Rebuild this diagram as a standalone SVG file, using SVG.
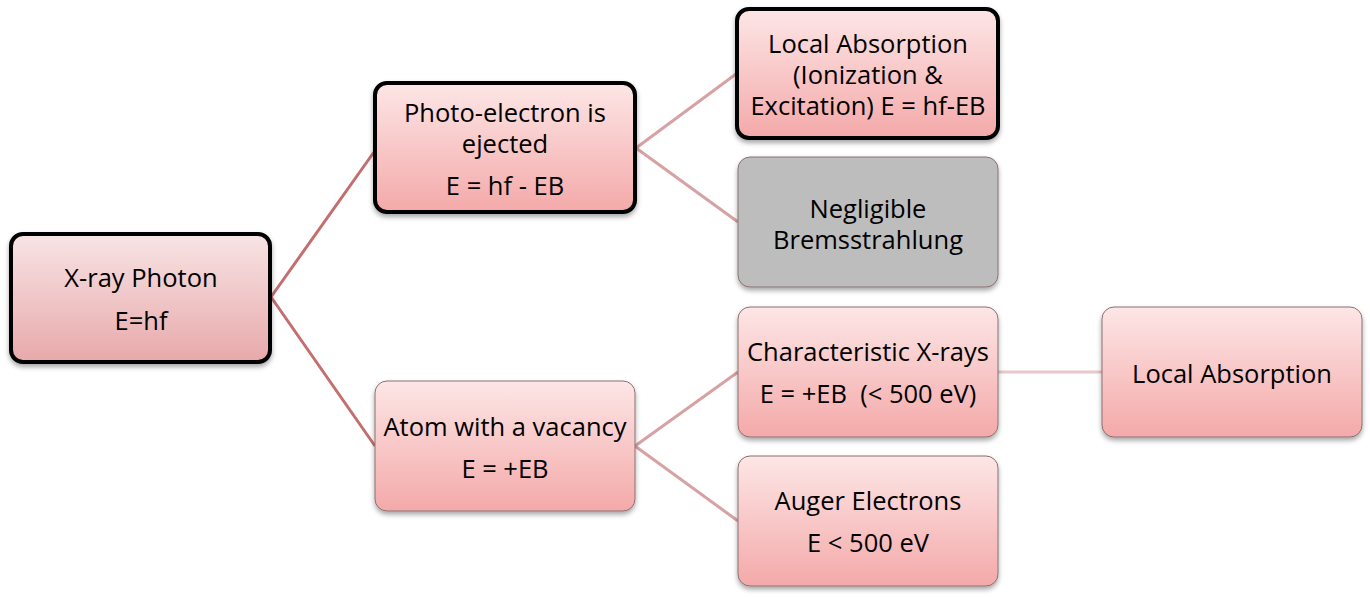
<svg xmlns="http://www.w3.org/2000/svg" width="1370" height="599" viewBox="0 0 1370 599">
<defs>
<linearGradient id="pink" x1="0" y1="0" x2="0" y2="1">
<stop offset="0" stop-color="#fde6e6"/>
<stop offset="1" stop-color="#f4a9a9"/>
</linearGradient>
<linearGradient id="pink0" x1="0" y1="0" x2="0" y2="1">
<stop offset="0" stop-color="#f8e4e5"/>
<stop offset="1" stop-color="#e8a9aa"/>
</linearGradient>
<filter id="sh" x="-10%" y="-10%" width="120%" height="130%">
<feDropShadow dx="0" dy="3" stdDeviation="2.5" flood-color="#000" flood-opacity="0.35"/>
</filter>
<style>
.t{font-family:"Open Sans","Liberation Sans",Arial,sans-serif;font-size:25.5px;fill:#000;text-anchor:middle}
.thick{stroke:#000;stroke-width:4;filter:url(#sh)}
.thin{stroke:#8a7070;stroke-width:1;filter:url(#sh)}
.c1{stroke:#c46e6f;stroke-width:3;fill:none}
.c2{stroke:#d7a2a3;stroke-width:3;fill:none}
.c3{stroke:#e8c8c9;stroke-width:3;fill:none}
</style>
</defs>
<g id="connectors">
<path class="c1" d="M271,297 L374,152 M271,297 L375,446"/>
<path class="c2" d="M636,148 L736,74 M636,148 L738,222 M635,446 L738,372 M635,446 L738,521"/>
<path class="c3" d="M998,372 L1102,372"/>
</g>
<g id="n1">
<rect class="thick" x="11" y="234" width="259" height="128" rx="12" fill="url(#pink0)"/>
<text class="t" x="141" y="287">X-ray Photon</text>
<text class="t" x="141" y="330">E=hf</text>
</g>
<g id="n2">
<rect class="thick" x="375" y="83" width="260" height="129" rx="12" fill="url(#pink)"/>
<text class="t" x="505" y="122">Photo-electron is</text>
<text class="t" x="505" y="153">ejected</text>
<text class="t" x="505" y="195">E = hf - EB</text>
</g>
<g id="n3">
<rect class="thick" x="737" y="9" width="261" height="129" rx="12" fill="url(#pink)"/>
<text class="t" x="868" y="53">Local Absorption</text>
<text class="t" x="868" y="84">(Ionization &amp;</text>
<text class="t" x="868" y="115">Excitation) E = hf-EB</text>
</g>
<g id="n4">
<rect class="thin" x="738" y="157" width="260" height="130" rx="12" fill="#bdbdbd" stroke="#8c8c8c"/>
<text class="t" x="868" y="218">Negligible</text>
<text class="t" x="868" y="249">Bremsstrahlung</text>
</g>
<g id="n5">
<rect class="thin" x="375" y="381" width="260" height="130" rx="12" fill="url(#pink)"/>
<text class="t" x="505" y="436">Atom with a vacancy</text>
<text class="t" x="505" y="478">E = +EB</text>
</g>
<g id="n6">
<rect class="thin" x="738" y="307" width="260" height="130" rx="12" fill="url(#pink)"/>
<text class="t" x="868" y="361">Characteristic X-rays</text>
<text class="t" x="868" y="403" xml:space="preserve">E = +EB  (&lt; 500 eV)</text>
</g>
<g id="n7">
<rect class="thin" x="738" y="456" width="260" height="130" rx="12" fill="url(#pink)"/>
<text class="t" x="868" y="510">Auger Electrons</text>
<text class="t" x="868" y="552">E &lt; 500 eV</text>
</g>
<g id="n8">
<rect class="thin" x="1102" y="307" width="260" height="130" rx="12" fill="url(#pink)"/>
<text class="t" x="1232" y="383">Local Absorption</text>
</g>
</svg>
